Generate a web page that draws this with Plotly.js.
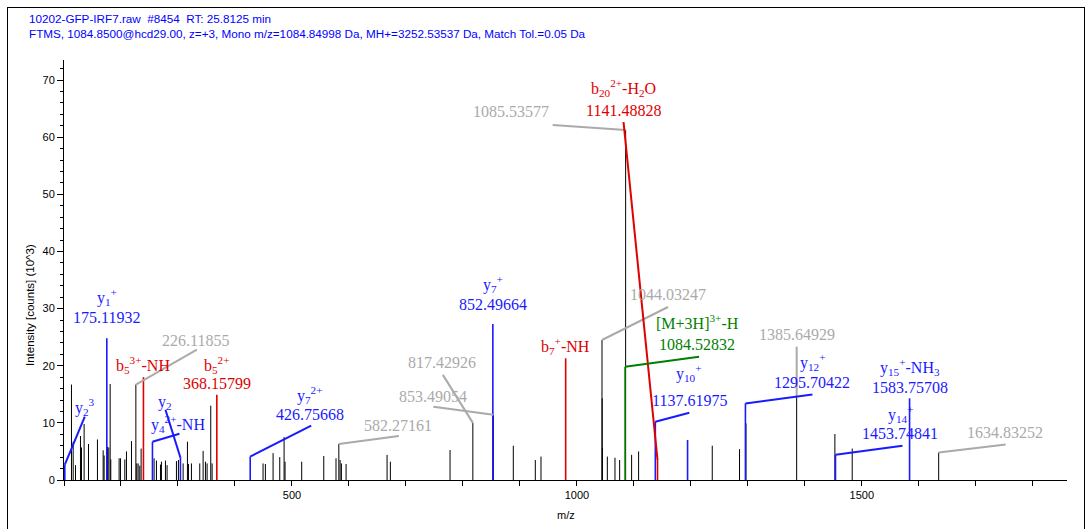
<!DOCTYPE html>
<html><head><meta charset="utf-8">
<script src="https://cdn.plot.ly/plotly-3.0.1.min.js"></script>
<style>
html,body{margin:0;padding:0;background:#fff;overflow:hidden;width:1091px;height:529px}
#chart{position:absolute;left:0;top:0;width:1091px;height:529px}
#frame{position:absolute;left:7px;top:7px;width:1076px;height:600px;border:1px solid #000;pointer-events:none}
</style>
</head><body>
<div id="chart"></div><div id="frame"></div>
<script>
// ---------- DATA ----------
const headerLines = [
  "10202-GFP-IRF7.raw  #8454  RT: 25.8125 min",
  "FTMS, 1084.8500@hcd29.00, z=+3, Mono m/z=1084.84998 Da, MH+=3252.53537 Da, Match Tol.=0.05 Da"
];
const xTitle = "m/z";
const yTitle = "Intensity [counts] (10^3)";

// unannotated peaks (m/z, intensity x10^3)
const peakMz = [113.1,116.1,120.2,128.9,130.7,135.3,143.0,158.7,168.7,170.4,176.3,178.6,181.0,182.1,196.7,199.1,
  206.7,209.6,218.4,227.7,230.1,233.0,235.3,258.1,262.2,269.3,271.0,278.0,280.9,297.3,300.8,309.0,316.6,318.4,
  323.6,338.2,344.1,348.2,351.1,357.5,359.9,449.3,453.4,466.9,478.6,486.2,487.9,517.1,555.8,577.3,584.5,586.8,
  595.0,666.9,672.7,777.4,888.4,927.0,937.0,1044.37,1044.70,1053.4,1066.8,1075.0,1096.0,1108.3,1237.5,1285.4,
  1296.71,1452.7,1483.1];
const peakInt = [16.7,6.7,2.6,7.7,5.7,9.8,6.3,7.1,5.2,4.3,5.8,5.7,16.8,3.6,3.8,3.8,
  3.6,5.0,6.8,2.9,2.9,2.5,5.5,3.8,3.4,2.7,3.2,3.4,2.6,3.3,3.5,2.9,6.7,2.8,
  2.9,2.9,5.1,3.2,2.9,13.0,2.9,2.9,2.8,4.7,4.0,7.5,3.2,3.2,4.2,3.8,3.5,2.9,
  2.8,4.4,3.2,5.25,6.0,3.5,4.1,14.3,5.6,4.1,3.9,3.5,4.4,5.0,6.0,5.4,
  9.9,8.05,5.5];

// annotated ions
const ionMz   = [101.4,175.11932,239.4,226.11855,368.15799,304.3,255.2,426.75668,582.27161,817.42926,853.49054,
  852.49664,980.3,1044.03247,1085.53577,1141.48828,1084.52832,1137.61975,1385.64929,1295.70422,1453.74841,
  1583.75708,1634.83252,1194.2];
const ionInt  = [2.7,24.8,18.0,16.7,14.9,3.9,6.7,4.1,6.3,10.0,11.4,
  27.3,21.3,24.5,61.25,3.5,19.8,10.2,14.6,13.4,4.4,
  14.3,4.8,7.0];
const ionType = ["y","y","b","none","b","y","y","y","none","none","none",
  "y","b","none","none","b","M","y","none","y","y",
  "y","none","y"];
const ionName = ["y<sub>2</sub><sup>3</sup>","y<sub>1</sub><sup>+</sup>","b<sub>5</sub><sup>3+</sup>-NH","",
  "b<sub>5</sub><sup>2+</sup>","y<sub>2</sub>","y<sub>4</sub><sup>2+</sup>-NH","y<sub>7</sub><sup>2+</sup>","","","",
  "y<sub>7</sub><sup>+</sup>","b<sub>7</sub><sup>+</sup>-NH","","","b<sub>20</sub><sup>2+</sup>-H<sub>2</sub>O",
  "[M+3H]<sup>3+</sup>-H","y<sub>10</sub><sup>+</sup>","","y<sub>12</sub><sup>+</sup>","y<sub>14</sub><sup>+</sup>",
  "y<sub>15</sub><sup>+</sup>-NH<sub>3</sub>","",""];
const ionShowMz = [false,true,false,true,true,false,false,true,true,true,true,
  true,false,true,true,true,true,true,true,true,true,
  true,true,false];

// ---------- LAYOUT OF LABELS (pixel offsets from the peak top: [right, up]) ----------
const nameOff = [[20,58],[0,41],[0,12],null,[0,30],[-15,55],[26,18],[60,62],null,null,null,
  [0,40],[0,12],null,null,[-34,372],[72,45],[34,49],null,[68,41],[66,41],[0,31],null,null];
const mzOff = [null,[0,21],null,[60,44],[0,11],null,null,[60,42],[59,19],[-31,60],[-60,18],
  [0,20],null,[66,46],[-115,19],[-34,350],[72,22],[34,21],[0,62],[67,21],[65,21],[0,11],[66,20],null];
const leadOff = [[20,48],null,null,[61,35],null,[-15,48],[27,8],[61,31],[60,8],[-30,48],[-60,8],
  null,null,[66,33],[-73,5],[-34,338],[74,10],[34,9],[0,50],[67,9],[67,9],null,[67,8],null];

// ---------- STYLE ----------
const colors = {y:"#1a1aff", b:"#e00000", M:"#008000", none:"#000000"};
const labelGray = "#aaaaaa";
const serif = "Liberation Serif, Times New Roman, serif";
const sans = "Liberation Sans, Arial, sans-serif";

function stems(xs, ys) {
  const X = [], Y = [];
  xs.forEach((m, i) => { X.push(m, m, null); Y.push(0, ys[i], null); });
  return {X, Y};
}

const traces = [];
// black peaks: unannotated + annotated with no ion type
{
  const bx = peakMz.slice(), by = peakInt.slice();
  ionMz.forEach((m, i) => { if (ionType[i] === "none") { bx.push(m); by.push(ionInt[i]); } });
  const s = stems(bx, by);
  traces.push({x: s.X, y: s.Y, type: "scatter", mode: "lines", line: {color: "#000", width: 1}, hoverinfo: "skip"});
}
["y", "b", "M"].forEach(t => {
  const xs = [], ys = [];
  ionMz.forEach((m, i) => { if (ionType[i] === t) { xs.push(m); ys.push(ionInt[i]); } });
  const s = stems(xs, ys);
  traces.push({x: s.X, y: s.Y, type: "scatter", mode: "lines", line: {color: colors[t], width: 1.6}, hoverinfo: "skip"});
});

const annotations = [];
const shapes = [];
ionMz.forEach((m, i) => {
  const col = ionType[i] === "none" ? labelGray : colors[ionType[i]];
  if (ionName[i] && nameOff[i]) {
    annotations.push({x: m, y: ionInt[i], xref: "x", yref: "y", showarrow: false, text: ionName[i],
      xshift: nameOff[i][0], yshift: nameOff[i][1], xanchor: "center", yanchor: "middle",
      font: {family: serif, size: 16, color: col}});
  }
  if (ionShowMz[i] && mzOff[i]) {
    annotations.push({x: m, y: ionInt[i], xref: "x", yref: "y", showarrow: false, text: ionMz[i].toFixed(5),
      xshift: mzOff[i][0], yshift: mzOff[i][1], xanchor: "center", yanchor: "middle",
      font: {family: serif, size: 16, color: col}});
  }
  if (leadOff[i]) {
    shapes.push({type: "line", xref: "x", yref: "y", xsizemode: "pixel", ysizemode: "pixel",
      xanchor: m, yanchor: ionInt[i], x0: 0, y0: 0, x1: leadOff[i][0], y1: leadOff[i][1],
      line: {color: col, width: 2}});
  }
});

// header and axis titles
annotations.push({xref: "paper", yref: "paper", x: (27 - 64) / 1003, y: (480 - 19) / 420, xanchor: "left", yanchor: "middle",
  showarrow: false, text: headerLines[0], font: {family: sans, size: 11.7, color: "#0000ff"}});
annotations.push({xref: "paper", yref: "paper", x: (27 - 64) / 1003, y: (480 - 33) / 420, xanchor: "left", yanchor: "middle",
  showarrow: false, text: headerLines[1], font: {family: sans, size: 11.7, color: "#0000ff"}});
annotations.push({xref: "paper", yref: "paper", x: 0.5, y: (480 - 515) / 420, xanchor: "center", yanchor: "middle",
  showarrow: false, text: xTitle, font: {family: sans, size: 11, color: "#000"}});
annotations.push({xref: "paper", yref: "paper", x: (30 - 64) / 1003, y: (480 - 305) / 420, xanchor: "center", yanchor: "middle",
  showarrow: false, text: yTitle, textangle: -90, font: {family: sans, size: 11.5, color: "#000"}});

const layout = {
  width: 1091, height: 529,
  margin: {l: 64, r: 24, t: 60, b: 49},
  paper_bgcolor: "#fff", plot_bgcolor: "#fff",
  showlegend: false,
  xaxis: {range: [100, 1860], tick0: 0, dtick: 500, ticks: "outside", ticklen: 5, tickcolor: "#000",
    showline: true, linecolor: "#000", linewidth: 1, showgrid: false, zeroline: false,
    tickfont: {family: sans, size: 11, color: "#000"},
    minor: {tick0: 0, dtick: 100, ticks: "outside", ticklen: 5, tickcolor: "#000", showgrid: false}},
  yaxis: {range: [0, 73.5], tick0: 0, dtick: 10, ticks: "outside", ticklen: 6, tickcolor: "#000",
    showline: true, linecolor: "#000", linewidth: 1, showgrid: false, zeroline: false,
    tickfont: {family: sans, size: 11, color: "#000"},
    minor: {tick0: 0, dtick: 2, ticks: "outside", ticklen: 3, tickcolor: "#000", showgrid: false}},
  annotations: annotations,
  shapes: shapes
};

Plotly.newPlot("chart", traces, layout, {displayModeBar: false, staticPlot: true});
</script>
</body></html>
